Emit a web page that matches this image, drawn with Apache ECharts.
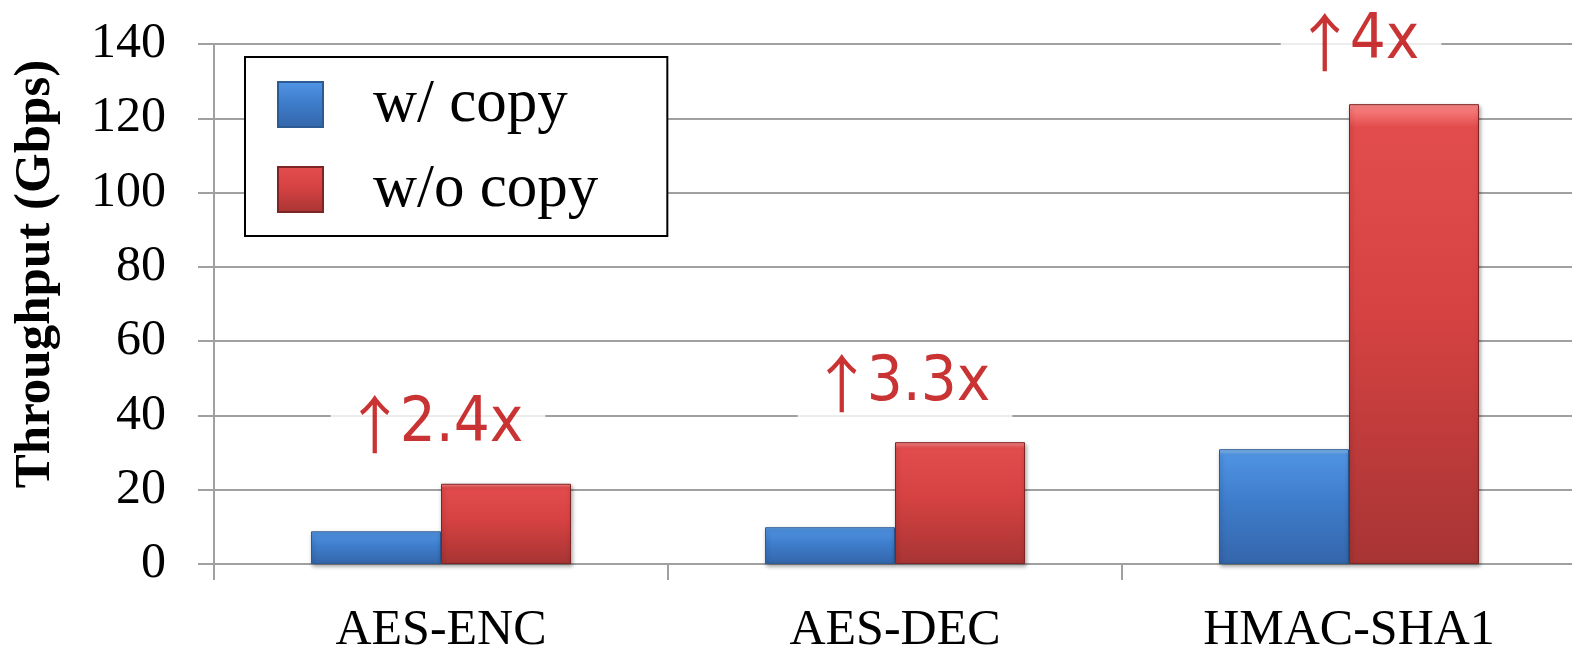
<!DOCTYPE html>
<html>
<head>
<meta charset="utf-8">
<script src="https://cdn.jsdelivr.net/npm/echarts@6/dist/echarts.min.js"></script>
<style>
    html, body { margin: 0; padding: 0; background: #fff; }
    #chart { width: 1572px; height: 647px; }
</style>
</head>
<body>
<div id="chart"></div>
<script>
    // data
    var categories = ['AES-ENC', 'AES-DEC', 'HMAC-SHA1'];
    var withCopy = [8.8, 9.9, 30.9];
    var withoutCopy = [21.6, 32.8, 123.8];
    var yTicks = [0, 20, 40, 60, 80, 100, 120, 140];
    var speedupText = ['2.4x', '3.3x', '4x'];
    var speedupY = [39, 50, 142];

    var serif = '"Liberation Serif", "Times New Roman", serif';
    // small nudges so the text boxes sit like the original
    var labelNudge = [-3, 10, 12];

    function barFill(top, light, mid, dark) {
        return new echarts.graphic.LinearGradient(0, 0, 0, 1, [
            { offset: 0, color: top },
            { offset: 0.05, color: light },
            { offset: 0.45, color: mid },
            { offset: 1, color: dark }
        ]);
    }

    var myChart = echarts.init(document.getElementById('chart'));
    var option = {
        animation: false,
        backgroundColor: '#fff',
        grid: {
            left: 214,
            top: 44,
            width: 1362,
            bottom: 83,
            containLabel: false,
            outerBoundsMode: 'none'
        },
        legend: {
            data: ['w/ copy', 'w/o copy'],
            orient: 'vertical',
            left: 245,
            top: 57,
            padding: [17, 69, 16, 32],
            itemGap: 24,
            itemWidth: 45,
            itemHeight: 45,
            icon: 'rect',
            borderColor: '#000',
            borderWidth: 2,
            backgroundColor: '#fff',
            textStyle: {
                fontFamily: serif,
                fontSize: 61,
                lineHeight: 61,
                color: '#000',
                padding: [0, 0, 0, 45]
            }
        },
        xAxis: {
            type: 'category',
            data: categories,
            axisLine: { lineStyle: { color: '#a0a0a0', width: 2 } },
            axisTick: { show: true, length: 16, lineStyle: { color: '#a0a0a0', width: 2 } },
            axisLabel: {
                margin: 42,
                fontFamily: serif,
                fontSize: 50,
                color: '#000'
            }
        },
        yAxis: {
            type: 'value',
            min: yTicks[0],
            max: yTicks[yTicks.length - 1],
            interval: yTicks[1] - yTicks[0],
            axisLine: { show: true, lineStyle: { color: '#a0a0a0', width: 2 } },
            axisTick: { show: true, length: 16, lineStyle: { color: '#a0a0a0', width: 2 } },
            axisLabel: {
                margin: 48,
                fontFamily: serif,
                fontSize: 50,
                color: '#000'
            },
            splitLine: { lineStyle: { color: '#a0a0a0', width: 2 } }
        },
        graphic: [{
            type: 'text',
            x: 36,
            y: 274,
            rotation: Math.PI / 2,
            style: {
                text: 'Throughput (Gbps)',
                fontFamily: serif,
                fontWeight: 'bold',
                fontSize: 51,
                fill: '#000',
                textAlign: 'center',
                textVerticalAlign: 'middle'
            }
        }],
        series: [{
            name: 'w/ copy',
            type: 'bar',
            data: withCopy,
            barWidth: 130,
            barGap: '0%',
            itemStyle: {
                color: barFill('#8cc4f7', '#4f93e2', '#3e7dcc', '#3466aa'),
                borderColor: '#2c5a92',
                borderWidth: 1,
                shadowColor: 'rgba(0,0,0,0.35)',
                shadowBlur: 4,
                shadowOffsetX: 1,
                shadowOffsetY: 2
            }
        }, {
            name: 'w/o copy',
            type: 'bar',
            data: withoutCopy,
            barWidth: 130,
            barGap: '0%',
            itemStyle: {
                color: barFill('#ff8a8a', '#e24c4c', '#d64242', '#a83434'),
                borderColor: '#7d2525',
                borderWidth: 1,
                shadowColor: 'rgba(0,0,0,0.35)',
                shadowBlur: 4,
                shadowOffsetX: 1,
                shadowOffsetY: 2
            }
        }, {
            name: 'speedup',
            type: 'scatter',
            symbolSize: 0,
            clip: false,
            z: 10,
            data: speedupText.map(function (t, i) {
                return {
                    value: [i, speedupY[i]],
                    label: { offset: [labelNudge[i], 5] }
                };
            }),
            label: {
                show: true,
                position: 'inside',
                backgroundColor: '#fff',
                padding: [8, 22, 8, 19],
                formatter: function (p) {
                    return '{a|\u2191}{b|' + speedupText[p.dataIndex] + '}';
                },
                rich: {
                    a: {
                        fontFamily: '"Noto Sans CJK SC", "Noto Sans CJK JP", sans-serif',
                        fontSize: 63,
                        lineHeight: 66,
                        width: 50,
                        align: 'center',
                        color: '#bb0000'
                    },
                    b: {
                        fontFamily: '"DejaVu Sans Condensed", "DejaVu Sans", sans-serif',
                        fontSize: 63,
                        lineHeight: 66,
                        color: '#bb0000'
                    }
                }
            }
        }]
    };
    myChart.setOption(option, true);
</script>
</body>
</html>
